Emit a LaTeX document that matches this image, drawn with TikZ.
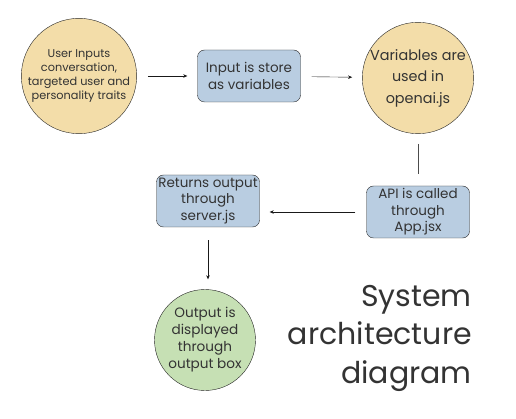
\documentclass[tikz,border=0pt]{standalone}
\usepackage{fontspec}
\setmainfont{Poppins}
\usetikzlibrary{arrows.meta,positioning}
\definecolor{sand}{HTML}{F3DDA9}
\definecolor{paleblue}{HTML}{B9CDE1}
\definecolor{sage}{HTML}{C6E0B4}
\definecolor{ink}{HTML}{333333}

\begin{document}
\begin{tikzpicture}[x=1pt,y=-1pt,text=ink,
  bubble/.style={circle,draw=black!85,fill=sand,inner sep=0pt,align=center},
  procbox/.style={rounded corners=7pt,draw=black!85,fill=paleblue,minimum width=103pt,minimum height=52pt,inner sep=0pt,align=center,font=\fontsize{13.5}{16.5}\selectfont},
  link/.style={-{Stealth[length=4pt,width=3.5pt]},black!90,shorten <=11pt,shorten >=10pt}]
	\useasboundingbox (0,0) rectangle (516,419);
	% top row
	\node[bubble,minimum size=110pt,font=\fontsize{11.3}{14.2}\selectfont] (inputs) at (79,76) {User Inputs\\conversation,\\targeted user and\\personality traits};
	\node[procbox] (store) at (249,76) {Input is store\\as variables};
	\node[bubble,minimum size=101pt,font=\fontsize{14.4}{21.5}\selectfont] (vars) at (418,78) {Variables are\\used in\\openai.js};
	% middle row
	\node[procbox] (api) at (418,212) {API is called\\through\\App.jsx};
	\node[procbox] (returns) at (208,201) {Returns output\\through\\server.js};
	% bottom
	\node[bubble,fill=sage,minimum size=101pt,font=\fontsize{13.6}{17}\selectfont] (output) at (205,340) {Output is\\displayed\\through\\output box};
	\node[align=right,anchor=north east,inner sep=0pt,font=\fontsize{30}{38.5}\selectfont] (title) at (472,285) {System\\architecture\\diagram};
	% connectors
	\draw[link] (inputs) -- (store);
	\draw[link] (store) -- (vars);
	\draw[black!70,shorten <=10pt,shorten >=12pt] (vars) -- (api);
	\draw[link] (api.west) -- (api.west -| returns.east);
	\draw[link,shorten <=13pt] (returns.south) -- (returns.south |- output.north);
\end{tikzpicture}
\end{document}
